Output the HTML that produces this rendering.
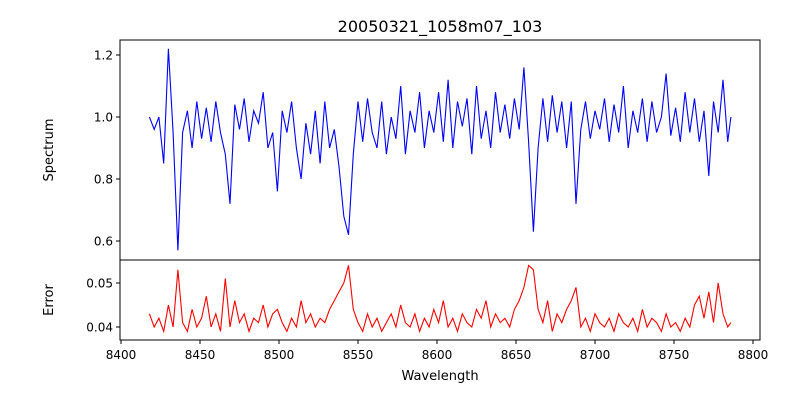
<!DOCTYPE html>
<html><head><meta charset="utf-8">
<style>
body{margin:0;background:#fff;}
svg text{font-family:"DejaVu Sans","Liberation Sans",sans-serif;fill:#000;}
</style></head>
<body>
<svg id="chart" width="800" height="400" xmlns="http://www.w3.org/2000/svg">
<text x="440" y="32" font-size="16" text-anchor="middle">20050321_1058m07_103</text>
<g id="top"></g>
<g id="bot"></g>
<text x="440" y="380" font-size="13" text-anchor="middle">Wavelength</text>
<text x="53" y="150" font-size="13" text-anchor="middle" transform="rotate(-90 53 150)">Spectrum</text>
<text x="53" y="300" font-size="13" text-anchor="middle" transform="rotate(-90 53 300)">Error</text>
</svg>
<script>
const wavelengths=[8418,8421,8424,8427,8430,8433,8436,8439,8442,8445,8448,8451,8454,8457,8460,8463,8466,8469,8472,8475,8478,8481,8484,8487,8490,8493,8496,8499,8502,8505,8508,8511,8514,8517,8520,8523,8526,8529,8532,8535,8538,8541,8544,8547,8550,8553,8556,8559,8562,8565,8568,8571,8574,8577,8580,8583,8586,8589,8592,8595,8598,8601,8604,8607,8610,8613,8616,8619,8622,8625,8628,8631,8634,8637,8640,8643,8646,8649,8652,8655,8658,8661,8664,8667,8670,8673,8676,8679,8682,8685,8688,8691,8694,8697,8700,8703,8706,8709,8712,8715,8718,8721,8724,8727,8730,8733,8736,8739,8742,8745,8748,8751,8754,8757,8760,8763,8766,8769,8772,8775,8778,8781,8784,8786];
const spectrum=[1.0,0.96,1.0,0.85,1.22,0.95,0.57,0.95,1.02,0.9,1.05,0.93,1.03,0.92,1.05,0.95,0.88,0.72,1.04,0.96,1.06,0.92,1.02,0.98,1.08,0.9,0.95,0.76,1.02,0.95,1.05,0.9,0.8,0.98,0.88,1.02,0.85,1.05,0.9,0.96,0.84,0.68,0.62,0.88,1.05,0.92,1.06,0.95,0.9,1.05,0.88,1.0,0.93,1.1,0.88,1.02,0.95,1.08,0.9,1.02,0.95,1.08,0.92,1.12,0.9,1.05,0.97,1.06,0.88,1.1,0.93,1.02,0.9,1.08,0.95,1.04,0.93,1.06,0.96,1.16,0.92,0.63,0.9,1.06,0.92,1.07,0.95,1.05,0.9,1.05,0.72,0.96,1.05,0.93,1.02,0.96,1.06,0.92,1.04,0.95,1.1,0.9,1.02,0.95,1.06,0.92,1.05,0.95,1.0,1.14,0.94,1.03,0.92,1.08,0.95,1.06,0.92,1.02,0.81,1.05,0.95,1.12,0.92,1.0];
const errorVals=[0.043,0.040,0.042,0.039,0.045,0.040,0.053,0.041,0.039,0.044,0.040,0.042,0.047,0.040,0.043,0.039,0.051,0.040,0.046,0.041,0.043,0.039,0.042,0.041,0.045,0.040,0.043,0.044,0.041,0.039,0.042,0.040,0.046,0.041,0.043,0.040,0.042,0.041,0.044,0.046,0.048,0.050,0.054,0.044,0.041,0.039,0.043,0.040,0.042,0.039,0.041,0.043,0.040,0.045,0.041,0.040,0.043,0.039,0.042,0.040,0.044,0.041,0.046,0.040,0.042,0.039,0.043,0.041,0.040,0.044,0.042,0.046,0.040,0.043,0.041,0.042,0.040,0.044,0.046,0.049,0.054,0.053,0.044,0.041,0.046,0.039,0.043,0.041,0.044,0.046,0.049,0.040,0.042,0.039,0.043,0.041,0.040,0.042,0.039,0.043,0.041,0.040,0.042,0.039,0.044,0.040,0.042,0.041,0.039,0.043,0.040,0.041,0.039,0.042,0.040,0.045,0.047,0.042,0.048,0.041,0.050,0.043,0.040,0.041];
const xTicks=[8400,8450,8500,8550,8600,8650,8700,8750,8800];
const specTicks=[0.6,0.8,1.0,1.2];
const errTicks=[0.04,0.05];

const NS="http://www.w3.org/2000/svg";
const L=120,R=760;
const xs=v=>121+(v-8400)*(753-121)/400;
const ys=v=>117-(v-1.0)*310;
const ye=v=>327-(v-0.04)*4400;
function mk(tag,attrs,parent){const e=document.createElementNS(NS,tag);for(const k in attrs)e.setAttribute(k,attrs[k]);parent.appendChild(e);return e;}
function panel(g,top,bot,ticks,yf,fmt,vals,color){
  const fr=mk('rect',{x:L,y:top,width:R-L,height:bot-top,fill:'none',stroke:'#000','stroke-width':1},g);
  
  
  ticks.forEach(t=>{const y=yf(t);
    const tl=mk('line',{x1:L-4,x2:L,y1:y,y2:y,stroke:'#000'},g);
    
    
    const tx=mk('text',{x:L-7,y:y+4.5,'font-size':12,'text-anchor':'end'},g);tx.textContent=fmt(t);
    
    
  });
  const d=vals.map((v,i)=>(i?'L':'M')+xs(wavelengths[i]).toFixed(1)+','+yf(v).toFixed(1)).join('');
  const p=mk('path',{d:d,fill:'none',stroke:color,'stroke-width':1.1},g);
  
  
}
panel(document.getElementById('top'),40,260,specTicks,ys,t=>t.toFixed(1),spectrum,'blue');
const bg=document.getElementById('bot');
panel(bg,260,340,errTicks,ye,t=>t.toFixed(2),errorVals,'red');
xTicks.forEach(t=>{const x=xs(t);
  const tl=mk('line',{x1:x,x2:x,y1:340,y2:344,stroke:'#000'},bg);
  
  
  const tx=mk('text',{x:x,y:359,'font-size':12,'text-anchor':'middle'},bg);tx.textContent=t;
  
  
});
</script>
</body></html>
